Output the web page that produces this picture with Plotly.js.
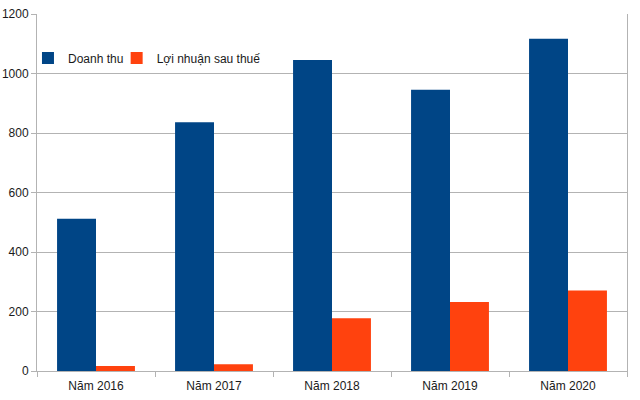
<!DOCTYPE html>
<html>
<head>
<meta charset="utf-8">
<script src="https://cdn.plot.ly/plotly-3.0.1.min.js"></script>
<style>html,body{margin:0;padding:0;background:#fff;}#chart{width:640px;height:400px;}</style>
</head>
<body>
<div id="chart"></div>
<script>
const categories = ["Năm 2016", "Năm 2017", "Năm 2018", "Năm 2019", "Năm 2020"];
const revenue = [512, 836, 1045, 945, 1117];
const profit = [17, 23, 177, 232, 271];
const seriesNames = ["Doanh thu", "Lợi nhuận sau thuế"];
const yTicks = [0, 200, 400, 600, 800, 1000, 1200];

const traces = [
  {type: "bar", name: seriesNames[0], x: categories, y: revenue, marker: {color: "#004586"}, legend: "legend"},
  {type: "bar", name: seriesNames[1], x: categories, y: profit, marker: {color: "#ff420e"}, legend: "legend2"}
];

const legendBase = {y: 0.877, xanchor: "left", yanchor: "middle", orientation: "h",
  bgcolor: "rgba(0,0,0,0)", font: {size: 12, color: "#1a1a1a"}, itemwidth: 30};

const layout = {
  width: 640, height: 400,
  margin: {l: 37, r: 13, t: 14, b: 29},
  paper_bgcolor: "#ffffff", plot_bgcolor: "#ffffff",
  font: {family: "Liberation Sans, Arial, sans-serif", size: 12, color: "#1a1a1a"},
  barmode: "group", bargap: 0.34, bargroupgap: 0,
  showlegend: true,
  legend: Object.assign({x: -0.0153}, legendBase),
  legend2: Object.assign({x: 0.135}, legendBase),
  xaxis: {showgrid: false, showline: true, linecolor: "#b3b3b3", linewidth: 1,
          ticks: "outside", tickson: "boundaries", ticklen: 5, tickcolor: "#b3b3b3",
          ticklabelstandoff: 4, mirror: false, fixedrange: true},
  yaxis: {range: [0, 1200], tickvals: yTicks, showgrid: true, gridcolor: "#b3b3b3", gridwidth: 1,
          showline: true, linecolor: "#b3b3b3", mirror: true, ticks: "outside", ticklen: 5,
          tickcolor: "#b3b3b3", zeroline: false, fixedrange: true}
};

Plotly.newPlot("chart", traces, layout, {displayModeBar: false, staticPlot: true});
</script>
</body>
</html>
